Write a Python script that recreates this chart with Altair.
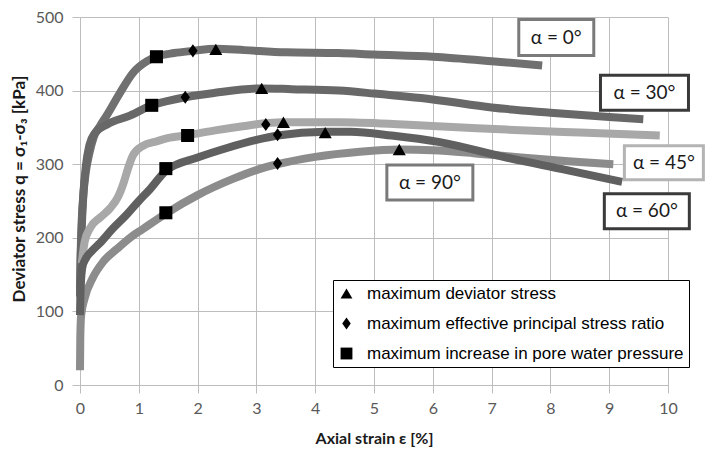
import altair as alt
import pandas as pd

# ---- curve data (axial strain [%], deviator stress [kPa]) ----
x_a0 = [0.0, 0.01, 0.03, 0.06, 0.1, 0.16, 0.23, 0.34, 0.46, 0.68, 0.9, 1.14, 1.3, 1.6, 1.92, 2.3, 2.8, 3.5, 4.4, 5.0, 6.0, 7.0, 7.86]
y_a0 = [130, 175, 225, 262, 290, 315, 336, 352, 367, 397, 424, 440, 446, 451, 454, 457, 455, 452, 451, 449, 446, 440, 434]

x_a30 = [0.0, 0.01, 0.03, 0.06, 0.1, 0.16, 0.25, 0.46, 0.85, 1.22, 1.5, 1.79, 2.3, 3.09, 3.6, 4.4, 5.0, 6.0, 7.0, 8.0, 9.0, 9.58]
y_a30 = [120, 165, 215, 262, 298, 326, 342, 354, 366, 380, 386, 391, 397, 403, 402, 400, 396, 388, 377, 370, 364, 361]

x_a45 = [0.03, 0.08, 0.17, 0.35, 0.51, 0.65, 0.73, 0.82, 0.9, 1.07, 1.3, 1.53, 1.8, 2.3, 2.8, 3.2, 3.46, 4.4, 5.5, 6.5, 7.25, 8.5, 9.86]
y_a45 = [165, 195, 213, 228, 240, 256, 272, 295, 312, 325, 331, 336, 339, 346, 352, 356, 357, 357, 354, 350, 347, 343, 339]

x_a60 = [0.0, 0.01, 0.04, 0.1, 0.2, 0.34, 0.55, 0.8, 1.0, 1.19, 1.46, 2.0, 2.5, 3.0, 3.36, 4.17, 4.6, 5.3, 6.12, 7.25, 8.28, 9.22]
y_a60 = [95, 130, 160, 172, 182, 193, 212, 232, 250, 266, 291, 309, 322, 333, 339, 344, 344, 339, 330, 309, 292, 276]

x_a90 = [0.0, 0.005, 0.02, 0.08, 0.22, 0.4, 0.63, 0.85, 1.07, 1.46, 2.0, 2.6, 3.0, 3.36, 4.0, 4.76, 5.43, 6.0, 6.69, 7.5, 8.3, 9.07]
y_a90 = [20, 65, 95, 118, 146, 168, 185, 200, 212, 233, 258, 280, 292, 300, 310, 317, 320, 319, 315, 309, 304, 300]

series_names = ["α = 0°", "α = 30°", "α = 45°", "α = 90°", "α = 60°"]
series_colors = ["#707070", "#686868", "#a8a8a8", "#8c8c8c", "#606060"]

# ---- characteristic points ----
marker_kinds = ["maximum deviator stress",
                "maximum effective principal stress ratio",
                "maximum increase in pore water pressure"]
tri_x = [2.31, 3.09, 3.46, 4.17, 5.43]
tri_y = [456, 403, 357, 343, 320]
dia_x = [1.92, 1.79, 3.16, 3.36, 3.36]
dia_y = [454, 391, 354, 340, 301]
sq_x = [1.3, 1.22, 1.83, 1.46, 1.46]
sq_y = [446, 380, 339, 294, 234]

# ---- curve labels ----
label_text = ["α = 0°", "α = 30°", "α = 45°", "α = 90°", "α = 60°"]
label_x = [8.1, 9.6, 9.93, 5.95, 9.64]
label_y = [472, 397, 302, 275, 236]
label_w = [75, 88, 79, 86, 85]
label_h = [36, 35, 34, 35, 35]
label_border = ["#7a7a7a", "#3a3a3a", "#b4b4b4", "#7a7a7a", "#3a3a3a"]

y_title = "Deviator stress q = σ₁-σ₃ [kPa]"
x_title = "Axial strain ε [%]"

curves = [x_a0, x_a30, x_a45, x_a90, x_a60]
curves_y = [y_a0, y_a30, y_a45, y_a90, y_a60]
rows = []
for name, xs, ys in zip(series_names, curves, curves_y):
    for i, (xv, yv) in enumerate(zip(xs, ys)):
        rows.append({"series": name, "i": i, "x": xv, "y": yv})
lines_df = pd.DataFrame(rows)

mrows = []
for kind, xs, ys in zip(marker_kinds, [tri_x, dia_x, sq_x], [tri_y, dia_y, sq_y]):
    for xv, yv in zip(xs, ys):
        mrows.append({"kind": kind, "x": xv, "y": yv})
markers_df = pd.DataFrame(mrows)

lab_df = pd.DataFrame({
    "text": label_text, "x": label_x, "y": label_y, "border": label_border,
    "path": [f"M{-w/100},{-h/100}H{w/100}V{h/100}H{-w/100}Z" for w, h in zip(label_w, label_h)],
})

xscale = alt.Scale(domain=[0, 10], nice=False)
yscale = alt.Scale(domain=[0, 500], nice=False)

xaxis = alt.Axis(values=list(range(11)), format="d", labelFlush=False,
                 title=x_title, labelPadding=7,
                 titleY=53, titleBaseline="middle")
yaxis = alt.Axis(values=list(range(0, 501, 50)), format="d", labelFlush=False,
                 title=None, labelPadding=9)

lines = alt.Chart(lines_df).mark_line(strokeWidth=8, strokeCap="butt", strokeJoin="round",
                                      interpolate="monotone").encode(
    x=alt.X("x:Q", scale=xscale, axis=xaxis),
    y=alt.Y("y:Q", scale=yscale, axis=yaxis),
    color=alt.Color("series:N", scale=alt.Scale(domain=series_names, range=series_colors), legend=None),
    order="i:Q",
)

markers = alt.Chart(markers_df).mark_point(filled=True, opacity=1, color="black", size=170).encode(
    x="x:Q", y="y:Q",
    shape=alt.Shape("kind:N", scale=alt.Scale(domain=marker_kinds,
                    range=["triangle-up", "M0,-1L0.72,0L0,1L-0.72,0Z", "square"]),
                    legend=alt.Legend(orient="none", legendX=253, legendY=263, title=None,
                                      padding=5, strokeColor="black", fillColor="white",
                                      labelFont="Liberation Sans", labelFontSize=17,
                                      labelColor="black", rowPadding=12, symbolSize=140,
                                      symbolFillColor="black", symbolStrokeWidth=0,
                                      labelOffset=12, labelLimit=500, cornerRadius=0)),
)

boxes = alt.Chart(lab_df).mark_point(filled=True, fill="white", opacity=1, strokeWidth=3,
                                     size=10000).encode(
    x="x:Q", y="y:Q",
    shape=alt.Shape("path:N", scale=None, legend=None),
    stroke=alt.Stroke("border:N", scale=None),
)
texts = alt.Chart(lab_df).mark_text(font="Lato", fontSize=19, color="#1a1a1a").encode(
    x="x:Q", y="y:Q", text="text:N")

ytitle = alt.Chart(pd.DataFrame({"t": [y_title]})).mark_text(
    font="Lato", fontSize=17, fontWeight="bold", color="#1a1a1a", angle=270,
    align="center", baseline="middle").encode(
    x=alt.value(-60), y=alt.value(172), text="t:N")

chart = alt.layer(lines, markers, boxes, texts, ytitle).properties(
    width=588, height=368,
    autosize=alt.AutoSizeParams(type="none"),
    padding={"left": 72, "top": 9, "right": 37, "bottom": 63},
).configure_view(stroke=None).configure_axis(
    labelFont="Lato", labelFontSize=16, labelColor="#595959",
    titleFont="Lato", titleFontSize=16, titleFontWeight="bold", titleColor="#1a1a1a",
    gridColor="#bdbdbd", gridWidth=1, domainColor="#bdbdbd", tickColor="#bdbdbd", tickSize=8,
)

chart.save("out.html", embed_options={"renderer": "svg", "actions": False})
